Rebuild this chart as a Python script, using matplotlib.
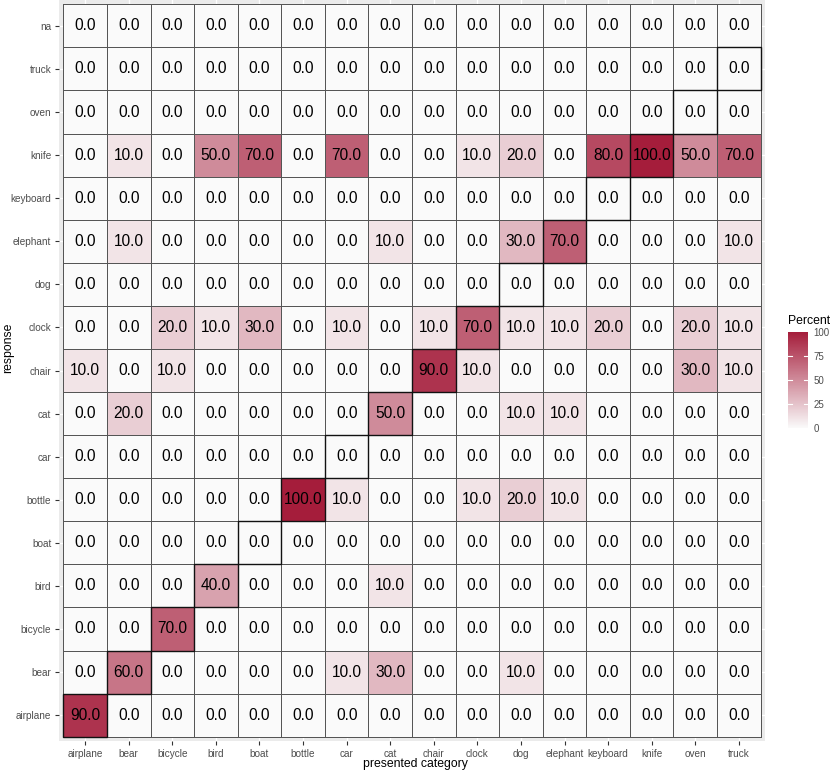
import numpy as np
import matplotlib
matplotlib.use('Agg')
import matplotlib.pyplot as plt
from matplotlib.colors import LinearSegmentedColormap
from matplotlib.patches import Rectangle

plt.rcParams['font.family'] = ['Liberation Sans', 'DejaVu Sans']

# categorias presentadas (eje x) y respuestas (eje y, de abajo hacia arriba)
presented = ['airplane', 'bear', 'bicycle', 'bird', 'boat', 'bottle', 'car', 'cat',
             'chair', 'clock', 'dog', 'elephant', 'keyboard', 'knife', 'oven', 'truck']
responses = presented + ['na']

# porcentajes por respuesta (una lista por fila, columnas en el orden de presented)
airplane = [90, 0, 0, 0, 0, 0, 0, 0, 0, 0, 0, 0, 0, 0, 0, 0]
bear = [0, 60, 0, 0, 0, 0, 10, 30, 0, 0, 10, 0, 0, 0, 0, 0]
bicycle = [0, 0, 70, 0, 0, 0, 0, 0, 0, 0, 0, 0, 0, 0, 0, 0]
bird = [0, 0, 0, 40, 0, 0, 0, 10, 0, 0, 0, 0, 0, 0, 0, 0]
boat = [0] * 16
bottle = [0, 0, 0, 0, 0, 100, 10, 0, 0, 10, 20, 10, 0, 0, 0, 0]
car = [0] * 16
cat = [0, 20, 0, 0, 0, 0, 0, 50, 0, 0, 10, 10, 0, 0, 0, 0]
chair = [10, 0, 10, 0, 0, 0, 0, 0, 90, 10, 0, 0, 0, 0, 30, 10]
clock = [0, 0, 20, 10, 30, 0, 10, 0, 10, 70, 10, 10, 20, 0, 20, 10]
dog = [0] * 16
elephant = [0, 10, 0, 0, 0, 0, 0, 10, 0, 0, 30, 70, 0, 0, 0, 10]
keyboard = [0] * 16
knife = [0, 10, 0, 50, 70, 0, 70, 0, 0, 10, 20, 0, 80, 100, 50, 70]
oven = [0] * 16
truck = [0] * 16
na = [0] * 16

M = np.array([airplane, bear, bicycle, bird, boat, bottle, car, cat, chair,
              clock, dog, elephant, keyboard, knife, oven, truck, na], dtype=float)

cmap = LinearSegmentedColormap.from_list('pct', ['#FAFAFA', '#A51D3B'])

fig = plt.figure(figsize=(8.3, 7.73), dpi=100)
ax = fig.add_axes([59 / 830, 32 / 773, 706 / 830, 741 / 773])
ax.set_facecolor('#EBEBEB')

nx, ny = len(presented), len(responses)
xs = np.arange(nx + 1) - 0.5
ys = np.arange(ny + 1) - 0.5
mesh = ax.pcolormesh(xs, ys, M, cmap=cmap, vmin=0, vmax=100,
                     edgecolors='#555555', linewidth=0.6, zorder=2)

# diagonal: respuesta correcta con borde negro
for i in range(nx):
    ax.add_patch(Rectangle((i - 0.5, i - 0.5), 1, 1, fill=False,
                           edgecolor='#111111', linewidth=1.0, zorder=3))

for r in range(ny):
    for c in range(nx):
        ax.text(c, r, f'{M[r, c]:.1f}', ha='center', va='center',
                fontsize=11.2, color='black', zorder=4)

ax.set_xlim(-0.6, nx - 0.4)
ax.set_ylim(-0.6, ny - 0.4)
ax.set_xticks(range(nx))
ax.set_xticklabels(presented)
ax.set_yticks(range(ny))
ax.set_yticklabels(responses)
ax.tick_params(axis='both', length=3, width=0.8, color='#333333',
               labelsize=7.2, labelcolor='#4D4D4D', pad=2.5)
ax.grid(True, color='white', linewidth=1.0, zorder=0)
ax.set_axisbelow(True)
for s in ax.spines.values():
    s.set_visible(False)

ax.set_xlabel('presented category', fontsize=8.8)
ax.set_ylabel('response', fontsize=8.8)
ax.xaxis.set_label_coords((415 - 59) / 706, -(758 - 741) / 741)
ax.yaxis.set_label_coords(-(59 - 14) / 706, (741 - 348) / 741)

# leyenda de color
cax = fig.add_axes([788 / 830, (773 - 428) / 773, 20 / 830, 96 / 773])
cb = fig.colorbar(mesh, cax=cax, ticks=[0, 25, 50, 75, 100])
cb.outline.set_visible(False)
cax.tick_params(length=0, labelsize=7, labelcolor='#4D4D4D', pad=4)
for t in [25, 50, 75]:
    cax.plot([0, 0.2], [t, t], color='white', linewidth=0.8, transform=cax.get_yaxis_transform())
    cax.plot([0.8, 1.0], [t, t], color='white', linewidth=0.8, transform=cax.get_yaxis_transform())
fig.text(788 / 830, (773 - 321) / 773, 'Percent', fontsize=8.8, ha='left', va='center')

plt.savefig('out.png', dpi=100)
